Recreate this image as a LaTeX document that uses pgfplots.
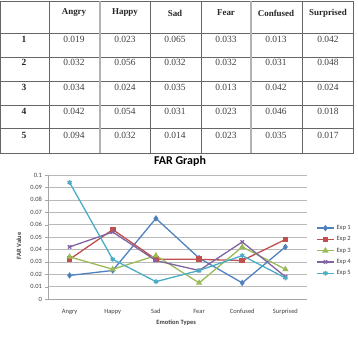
\documentclass[border=0pt]{standalone}
\usepackage{fontspec}
\setmainfont{Carlito}
\newfontfamily\tabfont{Liberation Serif}
\usepackage{pgfplots}
\pgfplotsset{compat=1.18}
\definecolor{cA}{HTML}{4F81BD}
\definecolor{cB}{HTML}{C0504D}
\definecolor{cC}{HTML}{9BBB59}
\definecolor{cD}{HTML}{8064A2}
\definecolor{cE}{HTML}{4BACC6}
\definecolor{tx}{HTML}{404040}
\begin{document}
\begin{tikzpicture}
\useasboundingbox (0,0) rectangle (358bp,-349bp);
% table grid
\foreach \yy in {1,33,57,81,105,128,153}{
  \draw[gray!80!black, line width=0.6bp] (0.5bp,-\yy bp) -- (353.5bp,-\yy bp);
}
\foreach \xx in {0.5,49,150,201,302,353.5}{
  \draw[gray!80!black, line width=0.6bp] (\xx bp,-1bp) -- (\xx bp,-153bp);
}
\foreach \xx in {100,251}{
  \draw[gray!60, line width=1.2bp] (\xx bp,-1bp) -- (\xx bp,-153bp);
}
% header
\foreach \xx/\t in {74/Angry,125/Happy,175/Sad,226/Fear,276/Confused,328/Surprised}{
  \node[font=\tabfont\fontsize{9}{10}\selectfont\bfseries, text=black!85] at (\xx bp,-13bp) {\t};
}
% rows
\foreach \yy/\r/\a/\b/\c/\d/\e/\f in {
 39/1/0.019/0.023/0.065/0.033/0.013/0.042,
 62/2/0.032/0.056/0.032/0.032/0.031/0.048,
 87/3/0.034/0.024/0.035/0.013/0.042/0.024,
 111/4/0.042/0.054/0.031/0.023/0.046/0.018,
 135/5/0.094/0.032/0.014/0.023/0.035/0.017}{
  \node[font=\tabfont\fontsize{9.5}{10}\selectfont\bfseries, text=black!85] at (24bp,-\yy bp) {\r};
  \node[font=\tabfont\fontsize{9.5}{10}\selectfont, text=black!75] at (74bp,-\yy bp) {\a};
  \node[font=\tabfont\fontsize{9.5}{10}\selectfont, text=black!75] at (125bp,-\yy bp) {\b};
  \node[font=\tabfont\fontsize{9.5}{10}\selectfont, text=black!75] at (175bp,-\yy bp) {\c};
  \node[font=\tabfont\fontsize{9.5}{10}\selectfont, text=black!75] at (226bp,-\yy bp) {\d};
  \node[font=\tabfont\fontsize{9.5}{10}\selectfont, text=black!75] at (276bp,-\yy bp) {\e};
  \node[font=\tabfont\fontsize{9.5}{10}\selectfont, text=black!75] at (328bp,-\yy bp) {\f};
}
\node[font=\fontsize{12}{13}\selectfont\bfseries] at (180bp,-161bp) {FAR Graph};
\begin{axis}[
  at={(48bp,-299bp)}, anchor=south west,
  scale only axis, width=259bp, height=124bp,
  xmin=-0.5, xmax=5.5, ymin=0, ymax=0.1,
  xtick={0,1,2,3,4,5},
  xticklabels={Angry,Happy,Sad,Fear,Confused,Surprised},
  ytick={0,0.01,0.02,0.03,0.04,0.05,0.06,0.07,0.08,0.09,0.1},
  yticklabels={0,0.01,0.02,0.03,0.04,0.05,0.06,0.07,0.08,0.09,0.1},
  axis lines*=left,
  axis line style={gray!70, line width=0.8bp},
  x axis line style={-}, y axis line style={-},
  ymajorgrids, grid style={gray!55, line width=0.6bp},
  xtick style={draw=none},
  ytick style={gray!70},
  tick align=outside, major tick length=2.5bp,
  ticklabel style={font=\fontsize{6.5}{7}\selectfont, text=tx},
  xticklabel style={yshift=-4bp},
  xlabel={Emotion Types}, ylabel={FAR Value},
  label style={font=\fontsize{6.5}{7}\selectfont\bfseries, text=tx},
  xlabel style={at={(axis description cs:0.495,-0.195)}, anchor=center},
  ylabel style={at={(axis description cs:-0.112,0.43)}, anchor=center},
  legend style={at={(1.035,0.39)}, anchor=west, draw=none, fill=none,
     font=\fontsize{6.5}{7}\selectfont, text=tx, row sep=1.6bp, inner sep=0pt},
  legend cell align=left,
  every axis plot/.append style={line width=1.3bp},
  clip=false,
]
\addplot[cA, mark=diamond*, mark size=2.2bp] coordinates {(0,0.019)(1,0.023)(2,0.065)(3,0.033)(4,0.013)(5,0.042)};
\addplot[cB, mark=square*, mark size=2.2bp] coordinates {(0,0.032)(1,0.056)(2,0.032)(3,0.032)(4,0.031)(5,0.048)};
\addplot[cC, mark=triangle*, mark size=2.4bp] coordinates {(0,0.034)(1,0.024)(2,0.035)(3,0.013)(4,0.042)(5,0.024)};
\addplot[cD, mark=x, mark size=2.4bp] coordinates {(0,0.042)(1,0.054)(2,0.031)(3,0.023)(4,0.046)(5,0.018)};
\addplot[cE, mark=asterisk, mark size=2.4bp] coordinates {(0,0.094)(1,0.032)(2,0.014)(3,0.023)(4,0.035)(5,0.017)};
\legend{Exp 1,Exp 2,Exp 3,Exp 4,Exp 5}
\end{axis}
\end{tikzpicture}
\end{document}
